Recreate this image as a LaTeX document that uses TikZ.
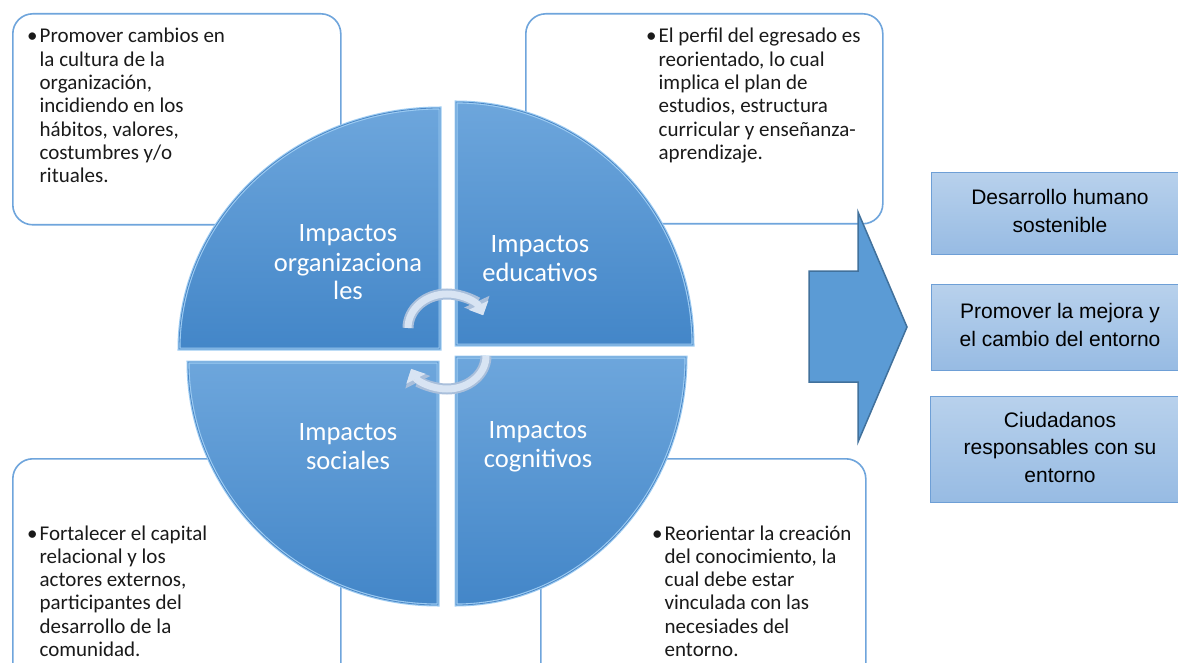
\documentclass[tikz,border=0pt]{standalone}
\usepackage{fontspec}
\setmainfont{Carlito}
\newfontfamily\arialf{Liberation Sans}
\usetikzlibrary{arrows.meta}
\definecolor{boxblue}{HTML}{6FA5DC}
\definecolor{qtop}{HTML}{6DA6DC}
\definecolor{qbot}{HTML}{4386C8}
\definecolor{qedge}{HTML}{4B87C6}
\definecolor{qlight}{HTML}{9CCBF2}
\definecolor{rtop}{HTML}{B8D1EC}
\definecolor{rbot}{HTML}{97BBE3}
\definecolor{rborder}{HTML}{6E9FD6}
\definecolor{arrfill}{HTML}{5B9BD5}
\definecolor{arrdraw}{HTML}{41719C}
\definecolor{carrout}{HTML}{A9BFDB}
\definecolor{carr}{HTML}{D8E4F3}
\definecolor{txt}{HTML}{1A1A1A}
\begin{document}
\begin{tikzpicture}[x=1pt,y=-1pt,
  textbox/.style={draw=boxblue, line width=1.6pt, rounded corners=20pt, fill=white, anchor=north west, inner sep=0pt},
  bodytext/.style={font=\fontsize{21}{23.3}\selectfont, text=txt, inner sep=0pt, anchor=base west},
  quadlabel/.style={font=\fontsize{26.5}{29}\selectfont, text=white, inner sep=0pt, anchor=base},
  quadfill/.style={top color=qtop, bottom color=qbot},
  rbox/.style={draw=rborder, line width=1pt, top color=rtop, bottom color=rbot, anchor=north west, inner sep=0pt},
  rtext/.style={font=\arialf\fontsize{21}{27.5}\selectfont, text=black, align=center, inner sep=0pt},
  carrowout/.style={draw=carrout, line width=11pt, -{Triangle[width=27pt,length=15pt]}},
  carrowin/.style={draw=carr, line width=7pt, -{Triangle[width=21pt,length=11pt]}}
]
\useasboundingbox (0,0) rectangle (1178,663);
\fill[white] (0,0) rectangle (1178,663);

% text boxes
\node[textbox, minimum width=328pt, minimum height=211pt] (b1) at (12,13) {};
\node[textbox, minimum width=357pt, minimum height=210pt] (b2) at (525,13) {};
\node[textbox, minimum width=328pt, minimum height=230pt] (b3) at (12,458) {};
\node[textbox, minimum width=325pt, minimum height=230pt] (b4) at (540,458) {};

\node[bodytext] (t1) at (27,43) {\begin{tabular}[t]{@{}l@{\hspace{2pt}}l@{}}
•&Promover cambios en\\ &la cultura de la\\ &organización,\\ &incidiendo en los\\ &hábitos, valores,\\ &costumbres y/o\\ &rituales.\end{tabular}};
\node[bodytext] (t2) at (646,43) {\begin{tabular}[t]{@{}l@{\hspace{2pt}}l@{}}
•&El perfil del egresado es\\ &reorientado, lo cual\\ &implica el plan de\\ &estudios, estructura\\ &curricular y enseñanza-\\ &aprendizaje.\end{tabular}};
\node[bodytext] (t3) at (27,540) {\begin{tabular}[t]{@{}l@{\hspace{2pt}}l@{}}
•&Fortalecer el capital\\ &relacional y los\\ &actores externos,\\ &participantes del\\ &desarrollo de la\\ &comunidad.\end{tabular}};
\node[bodytext] (t4) at (652,540) {\begin{tabular}[t]{@{}l@{\hspace{2pt}}l@{}}
•&Reorientar la creación\\ &del conocimiento, la\\ &cual debe estar\\ &vinculada con las\\ &necesiades del\\ &entorno.\end{tabular}};

% quadrants
\foreach \cx/\cy/\rx/\ry/\sa in {440/349/261/241/180, 456/345/237/243/270, 456/357/230/248/0, 438/362/250/243/90}{
  \path[quadfill] (\cx,\cy) -- +({\rx*cos(\sa)},{\ry*sin(\sa)}) arc[start angle=\sa, end angle=\sa+90, x radius=\rx, y radius=\ry] -- cycle;
  \draw[qlight, line width=3pt, line join=miter] (\cx,\cy) -- +({\rx*cos(\sa)},{\ry*sin(\sa)}) arc[start angle=\sa, end angle=\sa+90, x radius=\rx, y radius=\ry] -- cycle;
  \draw[qedge, line width=0.8pt] (\cx,\cy) -- +({\rx*cos(\sa)},{\ry*sin(\sa)}) arc[start angle=\sa, end angle=\sa+90, x radius=\rx, y radius=\ry] -- cycle;
}

\node[quadlabel] (q1) at (348,242) {\begin{tabular}[t]{@{}c@{}}Impactos\\organizaciona\\les\end{tabular}};
\node[quadlabel] (q2) at (540,252) {\begin{tabular}[t]{@{}c@{}}Impactos\\educativos\end{tabular}};
\node[quadlabel] (q3) at (348,440) {\begin{tabular}[t]{@{}c@{}}Impactos\\sociales\end{tabular}};
\node[quadlabel] (q4) at (538,438) {\begin{tabular}[t]{@{}c@{}}Impactos\\cognitivos\end{tabular}};

% circular arrows
\draw[carrowout] (408,328) arc[start angle=180, end angle=338, x radius=39, y radius=34];
\draw[carrowin] (408,328) arc[start angle=180, end angle=338, x radius=39, y radius=34];
\draw[carrowout] (486,356) arc[start angle=0, end angle=157, x radius=39, y radius=33];
\draw[carrowin] (486,356) arc[start angle=0, end angle=157, x radius=39, y radius=33];

% big arrow
\draw[fill=arrfill, draw=arrdraw, line width=1.5pt, line join=miter]
  (809,271) -- (858,271) -- (858,212) -- (907,327) -- (858,442) -- (858,382) -- (809,382) -- cycle;

% right boxes
\node[rbox, minimum width=259pt, minimum height=82pt] (r1) at (931,172) {};
\node[rbox, minimum width=259pt, minimum height=86pt] (r2) at (931,284) {};
\node[rbox, minimum width=260pt, minimum height=106pt] (r3) at (930,396) {};
\node[rtext] (rt1) at (1060,211) {Desarrollo humano\\sostenible};
\node[rtext] (rt2) at (1060,325) {Promover la mejora y\\el cambio del entorno};
\node[rtext] (rt3) at (1060,447) {Ciudadanos\\responsables con su\\entorno};
\end{tikzpicture}
\end{document}
